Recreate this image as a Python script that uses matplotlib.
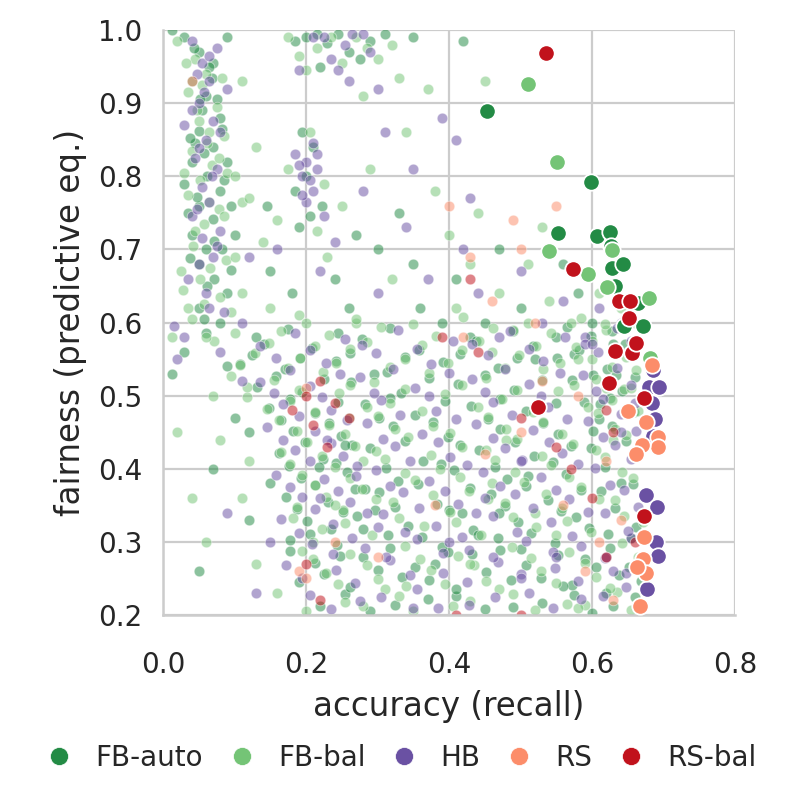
import numpy as np
import matplotlib.pyplot as plt
import seaborn as sns
from matplotlib.lines import Line2D

sns.set_theme(style='whitegrid')
plt.rcParams['font.family'] = ['DejaVu Sans']
plt.rcParams['grid.color'] = '#cccccc'
plt.rcParams['grid.linewidth'] = 1.6
plt.rcParams['axes.edgecolor'] = '#cccccc'
plt.rcParams['axes.linewidth'] = 1.8

methods = ['FB-auto', 'FB-bal', 'HB', 'RS', 'RS-bal']
palette = ['#238b45', '#74c476', '#6a51a3', '#fc8d6a', '#c1121c']

# all evaluated configurations (accuracy, fairness)
fb_auto_cloud = [
    (0.03, 0.99), (0.05, 0.97), (0.07, 0.955), (0.04, 0.93), (0.06, 0.91), (0.08, 0.88), (0.05, 0.862),
    (0.07, 0.84), (0.04, 0.82), (0.062, 0.80), (0.08, 0.78), (0.05, 0.76), (0.07, 0.742), (0.04, 0.72),
    (0.06, 0.70), (0.05, 0.68), (0.072, 0.66), (0.09, 0.64), (0.05, 0.62), (0.08, 0.60), (0.06, 0.585),
    (0.10, 0.72), (0.09, 0.82), (0.03, 0.79), (0.064, 0.95), (0.09, 0.99), (0.012, 1.0), (0.055, 0.89),
    (0.083, 0.70), (0.061, 0.65), (0.045, 0.845), (0.075, 0.905), (0.035, 0.75), (0.095, 0.76),
    (0.043, 0.975), (0.068, 0.935), (0.052, 0.905), (0.082, 0.865), (0.038, 0.852), (0.058, 0.832),
    (0.085, 0.795), (0.048, 0.772), (0.072, 0.712), (0.038, 0.688), (0.095, 0.672), (0.058, 0.605),
    (0.20, 0.99), (0.23, 0.982), (0.26, 0.97), (0.29, 0.985), (0.22, 0.95), (0.31, 0.995), (0.42, 0.985),
    (0.245, 0.995), (0.185, 0.985), (0.275, 0.96), (0.35, 0.99), (0.215, 0.995),
    (0.20, 0.80), (0.222, 0.76), (0.19, 0.73), (0.21, 0.84), (0.185, 0.78), (0.205, 0.745), (0.195, 0.86),
    (0.15, 0.67), (0.27, 0.72), (0.33, 0.75), (0.26, 0.62), (0.13, 0.58), (0.18, 0.64), (0.36, 0.62),
    (0.12, 0.45), (0.012, 0.53), (0.30, 0.70), (0.145, 0.76), (0.24, 0.66), (0.35, 0.68),
    (0.41, 0.66), (0.45, 0.60), (0.50, 0.62), (0.55, 0.58), (0.47, 0.70), (0.58, 0.64), (0.52, 0.55),
    (0.60, 0.60), (0.43, 0.58), (0.63, 0.57), (0.56, 0.68), (0.39, 0.60),
    (0.22, 0.213), (0.29, 0.205), (0.37, 0.222), (0.45, 0.208), (0.53, 0.217), (0.60, 0.203), (0.66, 0.224),
    (0.255, 0.229), (0.325, 0.214), (0.41, 0.226), (0.49, 0.211), (0.575, 0.228), (0.63, 0.212),
    (0.19, 0.245), (0.262, 0.238), (0.334, 0.252), (0.41, 0.236), (0.487, 0.248), (0.572, 0.241), (0.638, 0.255),
    (0.225, 0.256), (0.3, 0.262), (0.372, 0.248), (0.452, 0.259), (0.528, 0.251), (0.605, 0.266), (0.668, 0.246),
    (0.213, 0.271), (0.28, 0.279), (0.352, 0.266), (0.432, 0.283), (0.508, 0.269), (0.59, 0.276), (0.652, 0.265),
    (0.178, 0.287), (0.248, 0.281), (0.318, 0.292), (0.398, 0.286), (0.472, 0.289), (0.552, 0.282), (0.625, 0.291),
    (0.178, 0.302), (0.243, 0.296), (0.315, 0.309), (0.39, 0.293), (0.468, 0.305), (0.548, 0.298), (0.623, 0.311),
    (0.205, 0.311), (0.28, 0.318), (0.362, 0.307), (0.434, 0.316), (0.515, 0.312), (0.596, 0.319), (0.655, 0.305),
    (0.201, 0.328), (0.272, 0.336), (0.343, 0.322), (0.418, 0.339), (0.497, 0.327), (0.578, 0.334), (0.661, 0.321),
    (0.188, 0.345), (0.252, 0.341), (0.325, 0.348), (0.4, 0.344), (0.478, 0.349), (0.556, 0.342), (0.632, 0.347),
    (0.172, 0.362), (0.231, 0.355), (0.302, 0.368), (0.383, 0.352), (0.459, 0.365), (0.538, 0.357), (0.612, 0.369),
    (0.212, 0.378), (0.282, 0.372), (0.356, 0.379), (0.43, 0.374), (0.508, 0.377), (0.585, 0.371), (0.658, 0.379),
    (0.193, 0.388), (0.258, 0.396), (0.328, 0.383), (0.407, 0.398), (0.481, 0.386), (0.563, 0.393), (0.641, 0.381),
    (0.176, 0.404), (0.242, 0.408), (0.312, 0.401), (0.389, 0.407), (0.465, 0.403), (0.545, 0.409), (0.618, 0.402),
    (0.162, 0.421), (0.224, 0.414), (0.289, 0.428), (0.364, 0.411), (0.442, 0.425), (0.519, 0.417), (0.598, 0.429),
    (0.198, 0.436), (0.265, 0.432), (0.338, 0.438), (0.415, 0.433), (0.492, 0.437), (0.57, 0.431), (0.648, 0.438),
    (0.182, 0.452), (0.249, 0.445), (0.321, 0.458), (0.398, 0.443), (0.471, 0.455), (0.552, 0.447), (0.628, 0.459),
    (0.165, 0.467), (0.232, 0.463), (0.302, 0.469), (0.378, 0.464), (0.455, 0.468), (0.532, 0.462), (0.61, 0.468),
    (0.148, 0.483), (0.212, 0.476), (0.283, 0.488), (0.352, 0.473), (0.431, 0.486), (0.508, 0.479), (0.589, 0.491),
    (0.659, 0.477), (0.178, 0.495), (0.245, 0.491), (0.318, 0.497), (0.395, 0.492), (0.472, 0.496), (0.55, 0.49),
    (0.625, 0.497), (0.131, 0.512), (0.194, 0.505), (0.263, 0.518), (0.333, 0.503), (0.412, 0.516), (0.491, 0.508),
    (0.572, 0.521), (0.642, 0.506), (0.158, 0.527), (0.225, 0.523), (0.295, 0.529), (0.372, 0.524), (0.45, 0.528),
    (0.53, 0.522), (0.602, 0.528), (0.66, 0.525), (0.108, 0.543), (0.171, 0.536), (0.242, 0.548), (0.313, 0.533),
    (0.392, 0.546), (0.469, 0.538), (0.551, 0.551), (0.621, 0.536), (0.125, 0.556), (0.192, 0.552), (0.262, 0.558),
    (0.338, 0.553), (0.415, 0.557), (0.495, 0.551), (0.575, 0.557), (0.141, 0.571), (0.208, 0.565), (0.279, 0.578),
    (0.358, 0.563), (0.438, 0.575), (0.518, 0.568), (0.598, 0.581), (0.175, 0.591), (0.245, 0.586), (0.318, 0.592),
    (0.49, 0.589), (0.565, 0.594), (0.628, 0.588),
    (0.235, 0.318), (0.268, 0.372), (0.218, 0.402), (0.296, 0.344), (0.254, 0.433), (0.611, 0.488), (0.633, 0.528),
    (0.582, 0.562), (0.646, 0.571), (0.602, 0.452), (0.47, 0.34), (0.51, 0.39), (0.44, 0.31), (0.5, 0.29),
    (0.38, 0.27), (0.56, 0.24), (0.62, 0.23),
    (0.05, 0.26), (0.07, 0.40), (0.12, 0.33), (0.10, 0.47), (0.09, 0.54), (0.03, 0.56), (0.15, 0.38),
]
fb_bal_cloud = [
    (0.02, 0.985), (0.045, 0.96), (0.06, 0.94), (0.035, 0.915), (0.075, 0.895), (0.05, 0.875), (0.085, 0.855),
    (0.04, 0.835), (0.068, 0.815), (0.052, 0.795), (0.09, 0.805), (0.035, 0.775), (0.078, 0.755), (0.058, 0.735),
    (0.042, 0.705), (0.088, 0.685), (0.066, 0.675), (0.028, 0.645), (0.058, 0.625), (0.095, 0.615), (0.04, 0.605),
    (0.072, 0.575), (0.11, 0.765), (0.1, 0.69), (0.012, 0.58), (0.025, 0.67), (0.11, 0.93), (0.065, 0.86),
    (0.032, 0.955), (0.055, 0.925), (0.082, 0.935), (0.048, 0.89), (0.062, 0.845), (0.078, 0.825), (0.03, 0.805),
    (0.065, 0.765), (0.045, 0.725), (0.085, 0.745), (0.052, 0.66), (0.08, 0.635), (0.035, 0.62), (0.1, 0.585),
    (0.175, 0.99), (0.215, 0.975), (0.27, 0.99), (0.3, 0.96), (0.25, 0.955), (0.33, 0.935), (0.19, 0.965),
    (0.2, 0.945), (0.235, 0.99), (0.285, 0.975), (0.32, 0.98),
    (0.205, 0.86), (0.175, 0.81), (0.215, 0.725), (0.225, 0.79),
    (0.12, 0.77), (0.16, 0.74), (0.23, 0.69), (0.29, 0.81), (0.34, 0.86), (0.38, 0.78), (0.32, 0.66),
    (0.27, 0.6), (0.15, 0.62), (0.11, 0.64), (0.4, 0.72), (0.44, 0.75), (0.37, 0.92), (0.45, 0.93),
    (0.28, 0.91), (0.13, 0.84), (0.25, 0.76), (0.19, 0.61), (0.06, 0.58), (0.1, 0.8), (0.14, 0.71),
    (0.47, 0.64), (0.51, 0.68), (0.54, 0.63), (0.43, 0.68), (0.49, 0.59), (0.57, 0.6), (0.61, 0.64),
    (0.53, 0.73), (0.62, 0.59), (0.46, 0.56), (0.58, 0.55), (0.41, 0.62), (0.64, 0.62), (0.66, 0.6),
    (0.2, 0.205), (0.28, 0.212), (0.35, 0.205), (0.43, 0.219), (0.52, 0.207), (0.59, 0.214), (0.655, 0.207),
    (0.255, 0.218), (0.33, 0.226), (0.405, 0.212), (0.49, 0.229), (0.565, 0.215), (0.635, 0.231),
    (0.245, 0.242), (0.31, 0.236), (0.395, 0.243), (0.47, 0.236), (0.55, 0.244), (0.625, 0.237),
    (0.228, 0.258), (0.3, 0.249), (0.375, 0.262), (0.452, 0.247), (0.528, 0.26), (0.605, 0.252), (0.668, 0.263),
    (0.21, 0.276), (0.285, 0.269), (0.36, 0.277), (0.435, 0.269), (0.515, 0.278), (0.59, 0.271), (0.665, 0.279),
    (0.195, 0.288), (0.262, 0.283), (0.338, 0.295), (0.412, 0.281), (0.488, 0.293), (0.568, 0.286), (0.642, 0.298),
    (0.222, 0.317), (0.292, 0.31), (0.365, 0.322), (0.445, 0.309), (0.522, 0.321), (0.598, 0.314), (0.672, 0.327),
    (0.182, 0.332), (0.255, 0.326), (0.33, 0.333), (0.41, 0.327), (0.49, 0.334), (0.565, 0.328), (0.645, 0.335),
    (0.188, 0.348), (0.252, 0.343), (0.322, 0.355), (0.401, 0.341), (0.478, 0.353), (0.558, 0.346), (0.632, 0.357),
    (0.228, 0.362), (0.298, 0.358), (0.378, 0.364), (0.455, 0.358), (0.535, 0.365), (0.61, 0.359),
    (0.212, 0.378), (0.278, 0.372), (0.352, 0.384), (0.428, 0.37), (0.505, 0.382), (0.584, 0.375), (0.658, 0.387),
    (0.195, 0.392), (0.262, 0.388), (0.338, 0.394), (0.415, 0.389), (0.492, 0.395), (0.568, 0.389), (0.642, 0.396),
    (0.178, 0.407), (0.241, 0.402), (0.311, 0.413), (0.388, 0.4), (0.465, 0.412), (0.542, 0.405), (0.618, 0.416),
    (0.165, 0.423), (0.222, 0.418), (0.298, 0.424), (0.375, 0.419), (0.452, 0.425), (0.53, 0.418), (0.605, 0.425),
    (0.201, 0.437), (0.268, 0.431), (0.342, 0.443), (0.418, 0.43), (0.495, 0.441), (0.574, 0.434), (0.648, 0.446),
    (0.188, 0.452), (0.255, 0.448), (0.325, 0.454), (0.402, 0.449), (0.48, 0.455), (0.558, 0.448), (0.632, 0.455),
    (0.162, 0.467), (0.232, 0.46), (0.301, 0.472), (0.378, 0.459), (0.455, 0.471), (0.532, 0.464), (0.608, 0.476),
    (0.145, 0.482), (0.212, 0.478), (0.285, 0.484), (0.362, 0.479), (0.44, 0.485), (0.518, 0.478), (0.595, 0.485),
    (0.665, 0.479), (0.118, 0.498), (0.178, 0.492), (0.246, 0.503), (0.318, 0.49), (0.395, 0.502), (0.474, 0.495),
    (0.552, 0.507), (0.628, 0.494), (0.118, 0.512), (0.19, 0.508), (0.262, 0.514), (0.338, 0.509), (0.418, 0.515),
    (0.495, 0.508), (0.575, 0.515), (0.645, 0.509), (0.095, 0.527), (0.155, 0.522), (0.224, 0.533), (0.295, 0.519),
    (0.372, 0.531), (0.452, 0.524), (0.531, 0.536), (0.605, 0.523), (0.662, 0.535), (0.108, 0.542), (0.175, 0.538),
    (0.242, 0.544), (0.318, 0.539), (0.398, 0.545), (0.478, 0.538), (0.555, 0.545), (0.628, 0.539), (0.128, 0.558),
    (0.192, 0.552), (0.262, 0.564), (0.338, 0.55), (0.418, 0.562), (0.498, 0.555), (0.578, 0.567), (0.648, 0.553),
    (0.148, 0.572), (0.212, 0.568), (0.285, 0.574), (0.362, 0.569), (0.442, 0.575), (0.522, 0.568), (0.6, 0.575),
    (0.66, 0.57), (0.165, 0.588), (0.232, 0.583), (0.305, 0.594), (0.382, 0.581), (0.462, 0.593), (0.542, 0.586),
    (0.618, 0.598), (0.2, 0.6), (0.27, 0.605), (0.35, 0.598), (0.42, 0.607), (0.51, 0.6), (0.585, 0.606),
    (0.24, 0.35), (0.28, 0.41), (0.21, 0.3), (0.26, 0.47), (0.62, 0.51), (0.6, 0.55), (0.655, 0.51),
    (0.63, 0.44), (0.46, 0.38), (0.52, 0.34), (0.43, 0.27), (0.55, 0.31), (0.48, 0.44), (0.58, 0.21), (0.34, 0.24),
    (0.04, 0.36), (0.06, 0.3), (0.08, 0.44), (0.11, 0.36), (0.13, 0.27), (0.02, 0.45), (0.07, 0.5),
    (0.16, 0.23), (0.12, 0.41),
]
hb_cloud = [
    (0.04, 0.985), (0.055, 0.955), (0.065, 0.93), (0.05, 0.9), (0.07, 0.875), (0.06, 0.85), (0.045, 0.825),
    (0.075, 0.81), (0.055, 0.785), (0.065, 0.765), (0.04, 0.745), (0.08, 0.725), (0.055, 0.715), (0.07, 0.69),
    (0.035, 0.66), (0.06, 0.64), (0.085, 0.615), (0.015, 0.595), (0.02, 0.55), (0.075, 0.975), (0.09, 0.92),
    (0.03, 0.87), (0.065, 0.965), (0.048, 0.94), (0.058, 0.915), (0.04, 0.89), (0.08, 0.86), (0.05, 0.838),
    (0.068, 0.8), (0.048, 0.755), (0.075, 0.705), (0.05, 0.68), (0.065, 0.62),
    (0.21, 0.99), (0.255, 0.98), (0.235, 0.96), (0.28, 0.995), (0.19, 0.945), (0.3, 0.92),
    (0.225, 0.99), (0.265, 0.995), (0.29, 0.97), (0.245, 0.945),
    (0.2, 0.82), (0.21, 0.78), (0.195, 0.8), (0.215, 0.81), (0.2, 0.765), (0.185, 0.83), (0.225, 0.745),
    (0.205, 0.795), (0.19, 0.815), (0.215, 0.83), (0.195, 0.775), (0.21, 0.845),
    (0.26, 0.93), (0.31, 0.86), (0.35, 0.81), (0.39, 0.88), (0.41, 0.85), (0.28, 0.78), (0.24, 0.71),
    (0.34, 0.73), (0.16, 0.7), (0.12, 0.69), (0.3, 0.64), (0.37, 0.66), (0.22, 0.67), (0.43, 0.77),
    (0.11, 0.6), (0.08, 0.56),
    (0.44, 0.64), (0.5, 0.67), (0.53, 0.6), (0.56, 0.63), (0.47, 0.58), (0.59, 0.58), (0.61, 0.62),
    (0.42, 0.7), (0.64, 0.6), (0.65, 0.56),
    (0.205, 0.228), (0.275, 0.219), (0.355, 0.235), (0.428, 0.214), (0.512, 0.23), (0.585, 0.222), (0.648, 0.238),
    (0.235, 0.208), (0.305, 0.225), (0.385, 0.209), (0.465, 0.224), (0.545, 0.209), (0.615, 0.226), (0.67, 0.215),
    (0.195, 0.25), (0.268, 0.244), (0.345, 0.255), (0.425, 0.245), (0.5, 0.256), (0.58, 0.246), (0.648, 0.257),
    (0.172, 0.268), (0.242, 0.262), (0.318, 0.275), (0.392, 0.258), (0.468, 0.272), (0.548, 0.264), (0.618, 0.278),
    (0.238, 0.284), (0.312, 0.279), (0.392, 0.285), (0.462, 0.279), (0.545, 0.286), (0.62, 0.28),
    (0.208, 0.297), (0.282, 0.291), (0.355, 0.304), (0.428, 0.289), (0.508, 0.301), (0.585, 0.294), (0.655, 0.306),
    (0.19, 0.312), (0.265, 0.306), (0.338, 0.313), (0.418, 0.307), (0.495, 0.314), (0.572, 0.308), (0.65, 0.315),
    (0.165, 0.331), (0.238, 0.325), (0.308, 0.338), (0.382, 0.322), (0.462, 0.335), (0.542, 0.327), (0.618, 0.339),
    (0.212, 0.345), (0.285, 0.339), (0.358, 0.346), (0.438, 0.34), (0.518, 0.347), (0.595, 0.341), (0.665, 0.348),
    (0.195, 0.361), (0.262, 0.355), (0.335, 0.368), (0.412, 0.352), (0.492, 0.366), (0.568, 0.358), (0.645, 0.371),
    (0.178, 0.375), (0.245, 0.37), (0.318, 0.376), (0.395, 0.37), (0.472, 0.377), (0.55, 0.371), (0.625, 0.378),
    (0.158, 0.392), (0.225, 0.386), (0.298, 0.398), (0.372, 0.383), (0.448, 0.396), (0.528, 0.389), (0.604, 0.401),
    (0.205, 0.41), (0.272, 0.404), (0.345, 0.411), (0.425, 0.405), (0.502, 0.412), (0.58, 0.406), (0.655, 0.413),
    (0.185, 0.425), (0.252, 0.418), (0.325, 0.431), (0.402, 0.416), (0.478, 0.429), (0.558, 0.421), (0.632, 0.433),
    (0.168, 0.44), (0.235, 0.435), (0.308, 0.441), (0.385, 0.436), (0.462, 0.442), (0.54, 0.436), (0.615, 0.443),
    (0.145, 0.457), (0.212, 0.451), (0.285, 0.463), (0.362, 0.448), (0.438, 0.461), (0.518, 0.453), (0.595, 0.466),
    (0.662, 0.452), (0.19, 0.472), (0.258, 0.467), (0.332, 0.473), (0.41, 0.468), (0.488, 0.474), (0.565, 0.468),
    (0.64, 0.475), (0.168, 0.488), (0.235, 0.481), (0.305, 0.494), (0.382, 0.479), (0.462, 0.491), (0.538, 0.484),
    (0.615, 0.496), (0.155, 0.503), (0.222, 0.498), (0.295, 0.504), (0.372, 0.499), (0.45, 0.505), (0.528, 0.499),
    (0.605, 0.506), (0.135, 0.519), (0.205, 0.513), (0.275, 0.526), (0.352, 0.511), (0.432, 0.523), (0.512, 0.516),
    (0.588, 0.528), (0.655, 0.515), (0.178, 0.535), (0.248, 0.53), (0.322, 0.536), (0.4, 0.531), (0.478, 0.537),
    (0.555, 0.531), (0.635, 0.538), (0.158, 0.552), (0.228, 0.545), (0.298, 0.558), (0.375, 0.543), (0.455, 0.555),
    (0.532, 0.548), (0.608, 0.56), (0.135, 0.568), (0.205, 0.563), (0.278, 0.569), (0.355, 0.564), (0.432, 0.57),
    (0.512, 0.564), (0.59, 0.571), (0.655, 0.575), (0.185, 0.585), (0.255, 0.578), (0.328, 0.59), (0.405, 0.575),
    (0.485, 0.588), (0.562, 0.58), (0.635, 0.592),
    (0.27, 0.39), (0.23, 0.44), (0.3, 0.32), (0.22, 0.36), (0.64, 0.45), (0.625, 0.52), (0.6, 0.57),
    (0.66, 0.49), (0.5, 0.41), (0.45, 0.36), (0.55, 0.28), (0.4, 0.3), (0.35, 0.21), (0.63, 0.26), (0.5, 0.25),
    (0.03, 0.58), (0.09, 0.34), (0.11, 0.52), (0.13, 0.23), (0.15, 0.3),
]
rs_cloud = [
    (0.04, 0.93), (0.49, 0.74), (0.55, 0.76), (0.4, 0.76), (0.43, 0.69), (0.5, 0.7), (0.46, 0.63),
    (0.2, 0.51), (0.19, 0.26), (0.2, 0.25), (0.42, 0.58), (0.45, 0.42), (0.5, 0.45), (0.58, 0.5),
    (0.62, 0.41), (0.61, 0.3), (0.63, 0.22), (0.56, 0.35), (0.38, 0.35), (0.3, 0.28), (0.52, 0.6),
    (0.59, 0.26), (0.64, 0.33), (0.24, 0.3), (0.53, 0.52),
]
rs_bal_cloud = [
    (0.2, 0.5), (0.22, 0.52), (0.24, 0.49), (0.26, 0.47), (0.21, 0.46), (0.18, 0.48), (0.23, 0.43),
    (0.43, 0.66), (0.39, 0.58), (0.44, 0.56), (0.5, 0.47), (0.55, 0.43), (0.6, 0.36), (0.62, 0.28),
    (0.41, 0.2), (0.5, 0.2), (0.66, 0.3), (0.62, 0.48), (0.57, 0.4), (0.63, 0.45), (0.2, 0.27), (0.22, 0.22),
]

# highlighted (best) configurations per method
fb_auto_best = [
    (0.453, 0.889), (0.599, 0.792), (0.552, 0.722), (0.607, 0.718), (0.625, 0.724), (0.626, 0.705),
    (0.628, 0.675), (0.643, 0.680), (0.632, 0.650), (0.664, 0.627), (0.645, 0.595), (0.671, 0.595),
]
fb_bal_best = [
    (0.510, 0.926), (0.551, 0.819), (0.540, 0.698), (0.594, 0.666), (0.628, 0.699), (0.621, 0.649),
    (0.680, 0.634), (0.681, 0.551),
]
hb_best = [
    (0.685, 0.535), (0.680, 0.512), (0.694, 0.512), (0.684, 0.490), (0.688, 0.468), (0.685, 0.445),
    (0.676, 0.364), (0.691, 0.348), (0.690, 0.300), (0.692, 0.281), (0.677, 0.236),
]
rs_best = [
    (0.684, 0.542), (0.650, 0.479), (0.676, 0.464), (0.692, 0.443), (0.692, 0.430), (0.670, 0.432),
    (0.661, 0.420), (0.673, 0.307), (0.672, 0.277), (0.675, 0.257), (0.663, 0.266), (0.667, 0.212),
]
rs_bal_best = [
    (0.536, 0.969), (0.573, 0.673), (0.638, 0.629), (0.653, 0.629), (0.652, 0.606), (0.632, 0.561),
    (0.656, 0.558), (0.662, 0.572), (0.624, 0.517), (0.524, 0.484), (0.673, 0.497), (0.673, 0.335),
]

clouds = [fb_auto_cloud, fb_bal_cloud, hb_cloud, rs_cloud, rs_bal_cloud]
bests = [fb_auto_best, fb_bal_best, hb_best, rs_best, rs_bal_best]

fig = plt.figure(figsize=(7.94, 8.07), dpi=100)
ax = fig.add_axes([0.2053, 0.2379, 0.7204, 0.7249])

for pts, col in zip(clouds, palette):
    p = np.array(pts)
    ax.scatter(p[:, 0], p[:, 1], s=58, color=col, alpha=0.52, edgecolor='white', linewidth=0.6, zorder=2)
for pts, col in zip(bests, palette):
    p = np.array(pts)
    ax.scatter(p[:, 0], p[:, 1], s=140, color=col, edgecolor='white', linewidth=1.3, zorder=3)

ax.set_xlim(0, 0.8)
ax.set_ylim(0.2, 1.0)
ax.set_xticks(np.arange(0, 0.81, 0.2))
ax.set_yticks(np.arange(0.2, 1.01, 0.1))
ax.xaxis.set_major_formatter('{x:.1f}')
ax.yaxis.set_major_formatter('{x:.1f}')
ax.tick_params(axis='x', labelsize=20, pad=20, colors='#262626')
ax.tick_params(axis='y', labelsize=20, pad=9, colors='#262626')
ax.set_xlabel('accuracy (recall)', fontsize=23.5, color='#262626', labelpad=8)
ax.set_ylabel('fairness (predictive eq.)', fontsize=23.5, color='#262626', labelpad=8)
ax.spines['top'].set_visible(False)
ax.spines['right'].set_visible(False)
ax.set_axisbelow(True)

handles = [Line2D([], [], marker='o', linestyle='', markersize=13, color=c,
                  markeredgecolor='white', markeredgewidth=0.5) for c in palette]
fig.legend(handles, methods, loc='center', bbox_to_anchor=(0.505, 0.061), ncol=5, frameon=False,
           fontsize=20, handlelength=1.0, handletextpad=0.8, columnspacing=0.9,
           labelcolor='#262626')

fig.savefig('out.png', dpi=100)
